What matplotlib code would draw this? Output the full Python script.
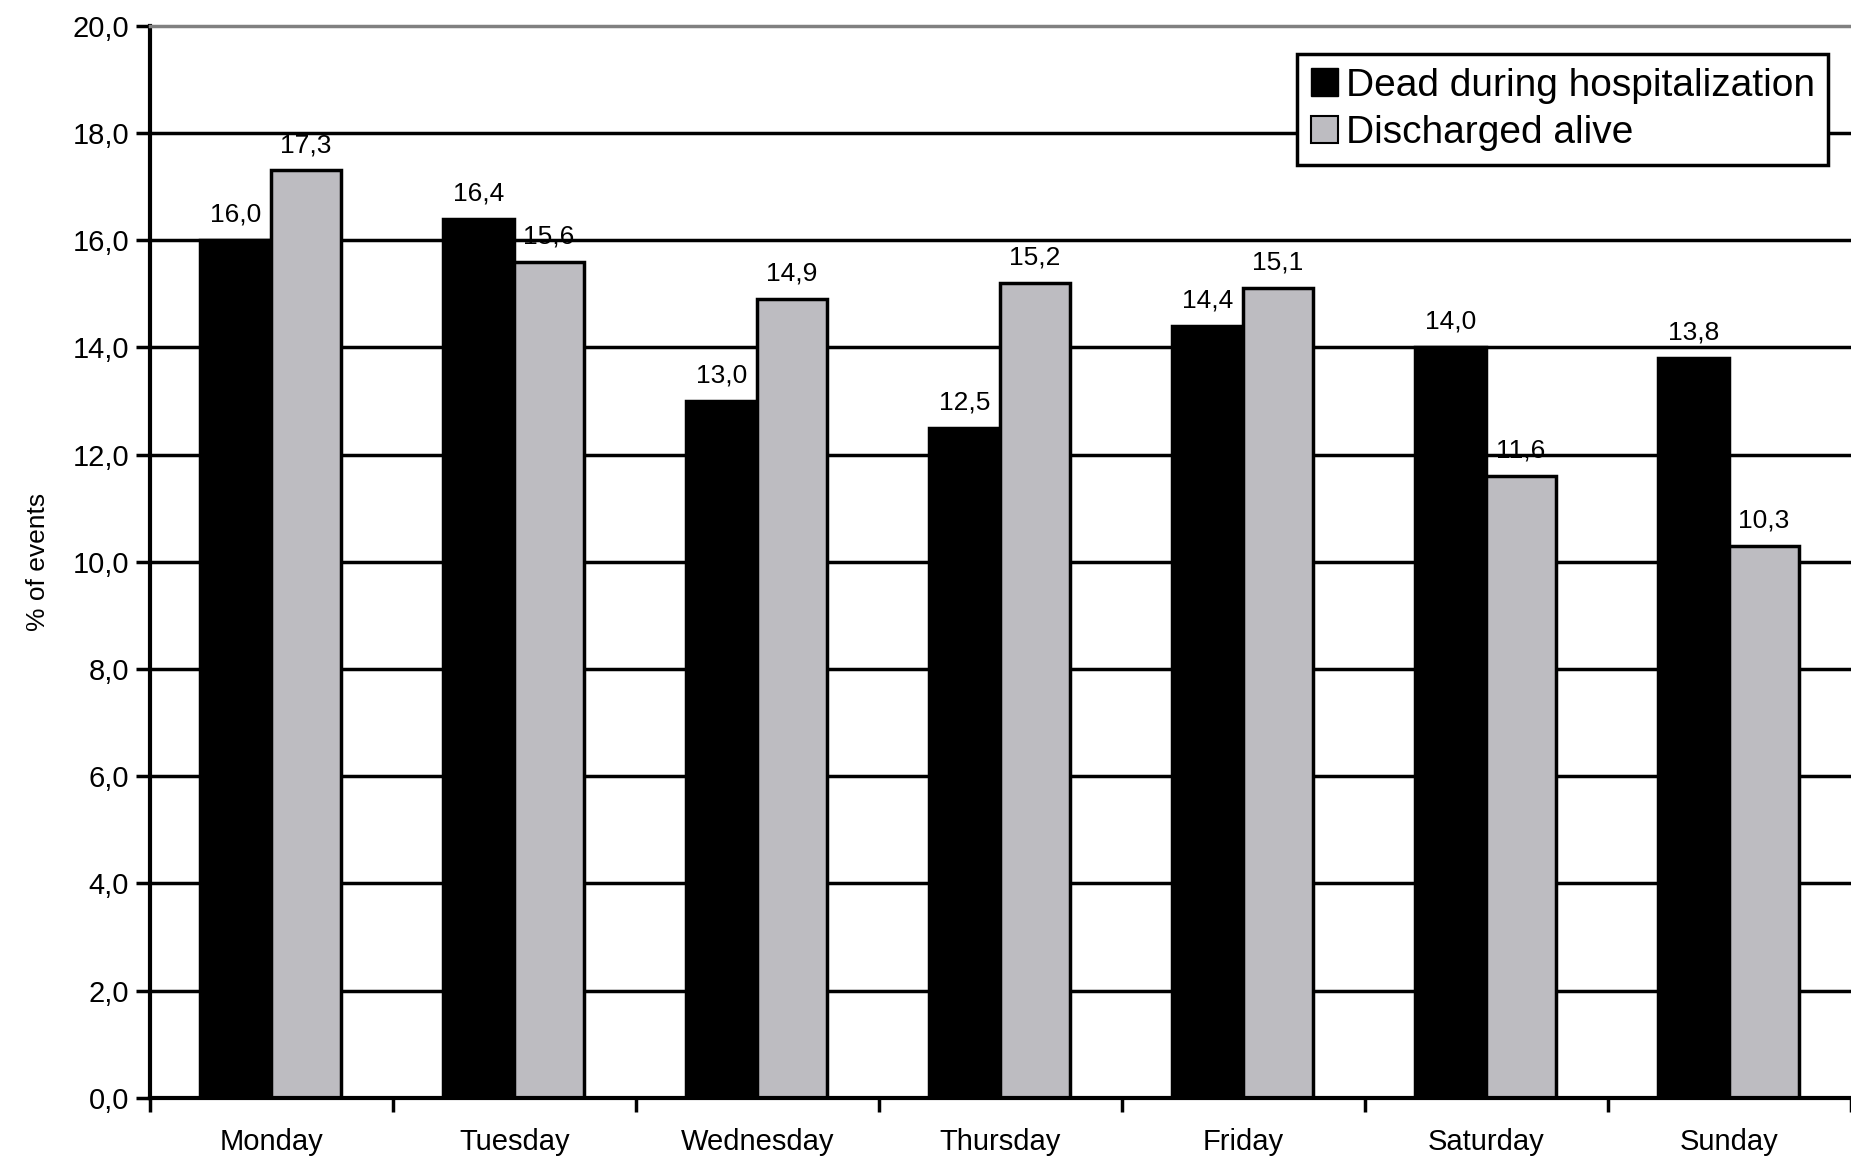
import matplotlib
matplotlib.use("Agg")
import matplotlib.pyplot as plt
from matplotlib.patches import Patch
import numpy as np

days = ["Monday", "Tuesday", "Wednesday", "Thursday", "Friday", "Saturday", "Sunday"]
dead = [16.0, 16.4, 13.0, 12.5, 14.4, 14.0, 13.8]
alive = [17.3, 15.6, 14.9, 15.2, 15.1, 11.6, 10.3]
series_names = ["Dead during hospitalization", "Discharged alive"]
yticks = [0, 2, 4, 6, 8, 10, 12, 14, 16, 18, 20]

plt.rcParams['font.family'] = ['Liberation Sans', 'DejaVu Sans']

fig = plt.figure(figsize=(18.51, 11.68), dpi=100)
ax = fig.add_axes([0.081, 0.060, 0.919, 0.918])

GRAY = '#bdbcc1'
x = np.arange(len(days))

for y in yticks[1:-1]:
    ax.axhline(y, color='black', lw=2.5, zorder=1)

ax.bar(x + 0.205, dead, width=0.295, align='edge', color='black',
       edgecolor='black', linewidth=2.5, zorder=2)
ax.bar(x + 0.5, alive, width=0.285, align='edge', color=GRAY,
       edgecolor='black', linewidth=2.5, zorder=2)

def fmt(v):
    return f"{v:.1f}".replace('.', ',')

for i in range(len(days)):
    ax.text(x[i] + 0.205 + 0.295 / 2, dead[i] + 0.25, fmt(dead[i]),
            ha='center', va='bottom', fontsize=19, zorder=3)
    ax.text(x[i] + 0.5 + 0.285 / 2, alive[i] + 0.25, fmt(alive[i]),
            ha='center', va='bottom', fontsize=19, zorder=3)

ax.set_xlim(0, 7)
ax.set_ylim(0, 20)
ax.set_yticks(yticks)
ax.set_yticklabels([fmt(v) for v in yticks], fontsize=21)
ax.set_xticks(np.arange(0, 8))
ax.set_xticklabels([])
ax.set_xticks(x + 0.5, minor=True)
ax.set_xticklabels(days, minor=True, fontsize=21)
ax.tick_params(axis='x', which='minor', length=0, pad=22)
ax.tick_params(axis='x', which='major', length=10, width=2.5, direction='out')
ax.tick_params(axis='y', length=10, width=2.5, direction='out', pad=5)

ax.spines['left'].set_linewidth(3)
ax.spines['bottom'].set_linewidth(3)
ax.spines['top'].set_color('#808080')
ax.spines['top'].set_linewidth(2.5)
ax.spines['right'].set_visible(False)

ax.set_ylabel("% of events", fontsize=19, labelpad=16)

handles = [Patch(facecolor='black', edgecolor='black'),
           Patch(facecolor=GRAY, edgecolor='black', linewidth=1.5)]
leg = fig.legend(handles, series_names, loc='upper left',
                 bbox_to_anchor=(0.7007, 0.9538), fontsize=28,
                 frameon=True, fancybox=False, framealpha=1.0, borderpad=0.35,
                 handlelength=0.7, handleheight=0.7, handletextpad=0.2,
                 labelspacing=0.3, borderaxespad=0)
leg.get_frame().set_edgecolor('black')
leg.get_frame().set_facecolor('white')
leg.get_frame().set_linewidth(2.5)

fig.savefig("out.png", dpi=100)
